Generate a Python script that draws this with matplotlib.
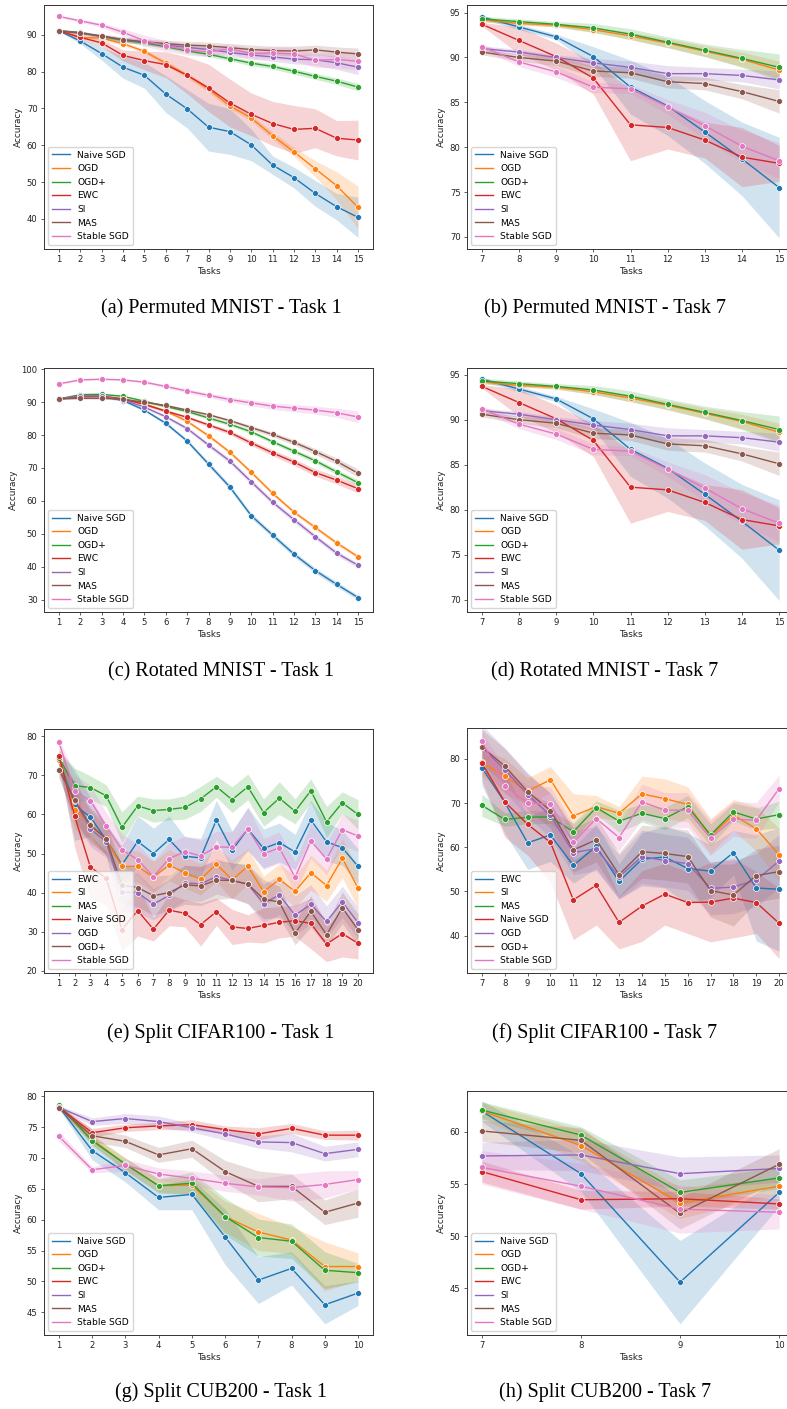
import matplotlib
matplotlib.use("Agg")
import matplotlib.pyplot as plt
from matplotlib.lines import Line2D
from matplotlib.ticker import MultipleLocator

# ---------------- data ----------------
methods_std = ["Naive SGD", "OGD", "OGD+", "EWC", "SI", "MAS", "Stable SGD"]
methods_cifar = ["EWC", "SI", "MAS", "Naive SGD", "OGD", "OGD+", "Stable SGD"]

tasks_15 = [1, 2, 3, 4, 5, 6, 7, 8, 9, 10, 11, 12, 13, 14, 15]
tasks_7_15 = [7, 8, 9, 10, 11, 12, 13, 14, 15]
tasks_20 = [1, 2, 3, 4, 5, 6, 7, 8, 9, 10, 11, 12, 13, 14, 15, 16, 17, 18, 19, 20]
tasks_7_20 = [7, 8, 9, 10, 11, 12, 13, 14, 15, 16, 17, 18, 19, 20]
tasks_10 = [1, 2, 3, 4, 5, 6, 7, 8, 9, 10]
tasks_7_10 = [7, 8, 9, 10]

# (a) Permuted MNIST - task 1
pmnist_t1_acc = [
    [91.1, 88.3, 84.9, 81.2, 79.0, 73.9, 69.9, 64.9, 63.7, 60.1, 54.6, 51.2, 46.9, 43.3, 40.4],
    [91.1, 89.3, 89.1, 87.6, 85.5, 82.3, 79.0, 75.2, 70.7, 67.4, 62.6, 58.2, 53.6, 49.0, 43.1],
    [91.1, 90.7, 89.5, 88.5, 87.8, 86.8, 85.6, 84.7, 83.5, 82.3, 81.4, 80.1, 78.7, 77.4, 75.8],
    [91.1, 89.3, 87.8, 84.4, 83.0, 81.9, 79.0, 75.6, 71.5, 68.4, 65.9, 64.3, 64.6, 61.9, 61.4],
    [91.1, 90.5, 89.6, 88.7, 88.0, 87.2, 86.6, 86.0, 85.2, 84.5, 84.0, 83.4, 83.2, 82.4, 81.2],
    [91.1, 90.4, 89.7, 88.7, 88.1, 87.6, 87.2, 87.0, 86.5, 86.0, 85.7, 85.6, 85.9, 85.3, 84.8],
    [95.0, 93.8, 92.6, 90.7, 88.4, 87.0, 85.9, 85.4, 86.2, 84.9, 85.1, 84.8, 83.1, 83.3, 82.8],
]
pmnist_t1_err = [
    [0.2, 0.7, 1.8, 3.0, 3.5, 5.0, 5.2, 6.5, 6.2, 4.3, 2.5, 2.8, 3.5, 3.6, 5.5],
    [0.2, 0.4, 0.5, 0.5, 0.5, 0.6, 0.7, 0.8, 0.8, 0.8, 1.0, 1.2, 2.2, 3.8, 5.8],
    [0.2, 0.4, 0.4, 0.5, 0.5, 0.5, 0.5, 0.6, 0.6, 0.7, 0.7, 0.8, 0.8, 0.9, 1.0],
    [0.2, 0.6, 1.0, 1.5, 2.5, 3.5, 5.0, 6.4, 6.5, 5.8, 6.0, 6.5, 5.3, 4.8, 5.4],
    [0.2, 0.4, 0.5, 0.6, 0.7, 0.8, 0.9, 1.0, 1.1, 1.1, 1.2, 1.3, 1.5, 1.8, 2.0],
    [0.2, 0.4, 0.5, 0.7, 0.8, 0.9, 1.0, 1.0, 1.1, 1.2, 1.2, 1.3, 1.3, 1.4, 1.6],
    [0.3, 0.4, 0.6, 0.9, 1.5, 1.5, 1.4, 1.4, 1.3, 1.4, 1.6, 1.8, 2.0, 2.2, 2.4],
]

# (b) Permuted MNIST - task 7  (panel (d) shows the same curves)
pmnist_t7_acc = [
    [94.5, 93.4, 92.3, 90.1, 86.7, 84.6, 81.7, 78.7, 75.5],
    [94.2, 93.8, 93.6, 93.1, 92.4, 91.6, 90.7, 89.8, 88.6],
    [94.3, 94.0, 93.7, 93.3, 92.6, 91.7, 90.8, 89.9, 88.9],
    [93.7, 91.9, 90.1, 87.7, 82.5, 82.2, 80.8, 78.9, 78.2],
    [91.0, 90.6, 90.0, 89.4, 88.9, 88.2, 88.2, 88.0, 87.5],
    [90.6, 90.0, 89.6, 88.5, 88.3, 87.3, 87.1, 86.2, 85.1],
    [91.2, 89.5, 88.4, 86.7, 86.5, 84.5, 82.4, 80.1, 78.5],
]
pmnist_t7_err = [
    [0.2, 0.3, 0.3, 1.1, 3.0, 3.3, 3.5, 4.1, 5.6],
    [0.2, 0.2, 0.2, 0.3, 0.4, 0.5, 0.6, 0.8, 1.0],
    [0.3, 0.3, 0.3, 0.5, 0.6, 0.6, 0.7, 1.0, 1.5],
    [0.2, 1.5, 1.5, 1.8, 4.0, 2.4, 2.0, 3.3, 2.0],
    [0.3, 0.3, 0.3, 0.5, 0.7, 0.9, 0.7, 0.7, 1.0],
    [0.3, 0.4, 0.5, 0.6, 0.6, 0.7, 0.7, 0.8, 1.3],
    [0.3, 0.5, 0.6, 0.6, 0.5, 0.8, 1.5, 1.8, 2.0],
]

# (c) Rotated MNIST - task 1
rmnist_t1_acc = [
    [91.0, 91.8, 91.8, 90.5, 87.6, 83.6, 78.2, 71.2, 64.2, 55.5, 49.6, 43.8, 38.8, 34.6, 30.6],
    [91.0, 92.0, 92.0, 91.0, 89.5, 87.3, 84.2, 79.8, 74.8, 68.7, 62.3, 56.6, 51.9, 47.2, 43.0],
    [91.0, 92.3, 92.4, 91.8, 90.3, 88.7, 87.2, 85.2, 83.3, 81.0, 78.0, 75.1, 72.2, 68.8, 65.5],
    [91.0, 91.7, 91.8, 91.0, 89.3, 87.3, 85.4, 83.1, 80.8, 77.6, 74.6, 71.8, 68.6, 66.3, 63.7],
    [91.0, 91.9, 91.9, 90.7, 88.5, 85.6, 82.0, 77.0, 72.1, 65.8, 59.6, 54.3, 49.1, 44.1, 40.4],
    [91.0, 91.2, 91.2, 90.9, 90.0, 89.0, 87.6, 86.2, 84.4, 82.3, 80.2, 77.8, 75.0, 72.0, 68.4],
    [95.6, 96.8, 97.0, 96.8, 96.1, 94.8, 93.4, 92.1, 90.8, 89.8, 88.8, 88.2, 87.6, 86.8, 85.5],
]
rmnist_t1_err = [
    [0.2, 0.3, 0.3, 0.3, 0.4, 0.5, 0.6, 0.7, 0.8, 0.8, 0.8, 0.8, 0.8, 0.8, 0.7],
    [0.2, 0.3, 0.3, 0.3, 0.3, 0.4, 0.5, 0.6, 0.6, 0.6, 0.6, 0.6, 0.6, 0.6, 0.6],
    [0.2, 0.4, 0.4, 0.3, 0.3, 0.4, 0.4, 0.5, 0.5, 0.6, 0.6, 0.7, 0.7, 0.8, 0.9],
    [0.2, 0.3, 0.3, 0.3, 0.4, 0.5, 0.5, 0.6, 0.7, 0.8, 0.9, 1.0, 1.1, 1.2, 1.3],
    [0.2, 0.3, 0.3, 0.3, 0.4, 0.5, 0.6, 0.7, 0.8, 0.8, 0.8, 0.8, 0.8, 0.8, 0.7],
    [0.2, 0.3, 0.3, 0.3, 0.3, 0.4, 0.4, 0.5, 0.5, 0.6, 0.7, 0.8, 0.9, 1.0, 1.3],
    [0.3, 0.3, 0.3, 0.3, 0.4, 0.5, 0.6, 0.7, 0.8, 0.9, 1.0, 1.1, 1.2, 1.4, 1.8],
]

# (e) Split CIFAR100 - task 1  (order: methods_cifar)
cifar_t1_acc = [
    [74.0, 62.4, 59.3, 53.5, 47.1, 53.1, 50.0, 53.6, 49.3, 48.9, 58.6, 50.8, 56.3, 51.3, 52.8, 50.4, 58.6, 53.0, 51.5, 46.7],
    [74.0, 61.2, 57.5, 53.5, 46.7, 46.7, 44.0, 47.0, 45.1, 43.4, 47.3, 43.3, 46.7, 40.2, 43.4, 40.3, 45.1, 41.8, 48.8, 41.1],
    [74.5, 67.4, 66.9, 64.8, 56.7, 62.2, 61.0, 61.3, 61.8, 64.0, 67.1, 63.8, 67.1, 60.5, 64.2, 60.8, 66.1, 58.1, 63.0, 60.0],
    [75.0, 59.5, 46.5, 43.7, 30.5, 35.4, 30.6, 35.5, 34.7, 31.8, 35.1, 31.2, 30.8, 31.6, 32.4, 32.8, 32.1, 26.8, 29.5, 27.0],
    [71.5, 63.5, 56.3, 53.0, 40.1, 40.0, 37.0, 39.3, 42.5, 42.2, 44.1, 43.1, 42.1, 37.2, 39.4, 34.2, 37.0, 32.6, 37.6, 32.3],
    [71.5, 63.7, 57.2, 53.8, 41.9, 41.3, 39.2, 40.0, 42.0, 41.7, 43.2, 43.1, 42.2, 38.3, 37.6, 29.6, 35.2, 29.2, 36.1, 30.5],
    [78.5, 66.0, 63.5, 57.0, 51.0, 48.4, 44.1, 48.7, 50.5, 49.4, 51.7, 51.6, 56.3, 49.9, 51.5, 43.9, 53.2, 48.6, 56.1, 54.5],
]
cifar_t1_err = [
    [2.0, 9.0, 5.0, 4.0, 5.0, 6.5, 6.5, 6.0, 5.0, 5.0, 5.0, 5.0, 5.5, 5.0, 5.0, 4.5, 5.0, 5.0, 4.5, 4.5],
    [2.0, 5.0, 4.0, 4.0, 4.0, 4.0, 4.0, 4.0, 4.0, 4.0, 4.5, 5.0, 4.5, 4.0, 4.0, 4.0, 4.5, 4.0, 5.0, 5.0],
    [2.0, 4.5, 3.0, 2.8, 4.0, 2.5, 3.0, 2.7, 3.0, 3.2, 2.7, 3.3, 3.3, 3.5, 4.2, 3.2, 3.0, 4.0, 2.8, 3.8],
    [2.0, 8.0, 8.0, 7.0, 5.5, 6.5, 3.0, 4.0, 3.5, 5.5, 3.5, 4.5, 3.5, 4.5, 4.0, 4.0, 6.5, 4.5, 6.0, 4.0],
    [2.0, 5.0, 4.5, 4.0, 5.0, 5.0, 4.0, 4.0, 4.5, 4.5, 4.5, 4.5, 5.0, 5.0, 5.0, 5.0, 5.0, 4.0, 4.0, 4.0],
    [2.0, 5.0, 4.5, 4.0, 5.0, 5.0, 5.0, 4.5, 5.0, 5.0, 5.0, 4.5, 5.0, 5.0, 4.0, 3.0, 4.0, 3.0, 4.0, 4.0],
    [1.0, 4.0, 4.0, 3.5, 4.0, 4.0, 4.0, 4.0, 4.0, 4.0, 4.0, 4.0, 5.5, 4.0, 4.0, 4.0, 4.5, 4.0, 4.0, 4.0],
]

# (f) Split CIFAR100 - task 7
cifar_t7_acc = [
    [78.0, 70.2, 61.0, 62.8, 55.9, 60.2, 52.3, 57.3, 57.8, 55.2, 54.6, 58.8, 50.8, 50.5],
    [79.2, 76.1, 72.7, 75.3, 67.1, 69.2, 67.7, 72.1, 71.0, 69.7, 62.5, 67.3, 64.2, 58.3],
    [69.5, 66.3, 66.8, 66.9, 63.5, 69.0, 65.9, 67.7, 66.5, 69.2, 62.8, 68.0, 66.4, 67.4],
    [79.1, 70.3, 65.2, 61.1, 48.1, 51.4, 43.0, 46.7, 49.4, 47.5, 47.6, 48.5, 47.5, 42.8],
    [82.7, 77.5, 71.9, 67.2, 58.8, 59.7, 53.3, 57.9, 57.0, 56.3, 50.7, 51.0, 52.6, 56.9],
    [82.7, 78.4, 72.6, 68.3, 59.4, 61.7, 53.8, 59.0, 58.6, 57.9, 50.2, 49.2, 53.6, 54.5],
    [84.1, 73.9, 70.1, 69.7, 61.1, 66.5, 62.2, 70.3, 68.4, 68.4, 62.1, 66.4, 66.1, 73.3],
]
cifar_t7_err = [
    [4.0, 7.0, 6.0, 6.0, 4.0, 5.0, 4.0, 6.0, 7.0, 8.0, 6.0, 5.0, 12.0, 14.0],
    [3.0, 4.0, 3.0, 3.0, 5.0, 2.5, 1.5, 4.0, 4.5, 4.0, 4.0, 3.5, 5.0, 6.0],
    [2.5, 1.5, 1.5, 1.5, 2.0, 1.5, 2.5, 2.0, 2.5, 2.5, 2.5, 2.0, 2.5, 3.0],
    [4.0, 8.0, 7.0, 9.0, 9.0, 9.0, 6.0, 8.0, 7.0, 7.0, 9.0, 9.0, 7.0, 8.0],
    [5.0, 5.0, 5.0, 5.0, 5.0, 5.0, 5.0, 6.0, 6.0, 6.0, 6.0, 6.0, 6.0, 6.0],
    [4.0, 4.0, 4.0, 4.0, 5.0, 5.0, 5.0, 6.0, 6.0, 6.0, 6.0, 7.0, 6.0, 6.0],
    [2.0, 4.0, 4.0, 4.0, 4.0, 3.0, 3.0, 4.0, 4.0, 4.0, 4.0, 4.0, 4.0, 3.0],
]

# (g) Split CUB200 - task 1
cub_t1_acc = [
    [78.3, 71.2, 67.6, 63.6, 64.1, 57.2, 50.2, 52.1, 46.2, 48.1],
    [78.3, 73.0, 69.0, 65.5, 65.6, 60.5, 58.0, 56.7, 52.4, 52.4],
    [78.6, 72.8, 69.0, 65.5, 65.9, 60.5, 57.1, 56.5, 51.8, 51.4],
    [78.2, 74.1, 74.9, 75.2, 75.4, 74.6, 73.9, 74.8, 73.7, 73.7],
    [78.2, 75.9, 76.4, 75.9, 74.9, 73.9, 72.6, 72.5, 70.7, 71.4],
    [78.1, 73.6, 72.7, 70.5, 71.5, 67.8, 65.4, 65.4, 61.2, 62.7],
    [73.5, 68.1, 68.8, 67.4, 66.7, 65.9, 65.3, 65.2, 65.7, 66.5],
]
cub_t1_err = [
    [0.3, 1.5, 1.5, 2.0, 2.5, 4.5, 3.8, 2.7, 3.1, 2.0],
    [0.3, 0.8, 1.0, 1.0, 1.5, 2.5, 3.0, 2.2, 4.0, 2.2],
    [0.3, 0.8, 1.0, 1.2, 1.8, 3.0, 3.0, 2.8, 3.0, 1.5],
    [0.3, 0.7, 0.6, 0.6, 0.8, 0.6, 1.0, 0.8, 0.7, 0.8],
    [0.3, 0.6, 0.8, 0.9, 0.7, 1.0, 1.0, 1.5, 1.2, 1.2],
    [0.3, 1.0, 1.0, 1.2, 1.4, 1.8, 2.5, 2.0, 2.0, 2.3],
    [0.8, 0.5, 1.0, 1.0, 1.2, 1.3, 1.3, 2.2, 2.2, 1.5],
]

# (h) Split CUB200 - task 7
cub_t7_acc = [
    [62.0, 56.0, 45.6, 54.2],
    [62.0, 58.7, 53.2, 54.8],
    [62.1, 59.7, 54.2, 55.6],
    [56.2, 53.5, 53.6, 53.1],
    [57.7, 57.8, 56.0, 56.5],
    [60.1, 59.2, 52.2, 56.9],
    [56.6, 54.8, 52.6, 52.3],
]
cub_t7_err = [
    [1.0, 1.7, 4.0, 1.3],
    [0.8, 1.5, 1.5, 0.8],
    [0.8, 0.8, 1.2, 1.0],
    [1.0, 0.9, 0.7, 0.5],
    [1.3, 1.5, 1.6, 1.3],
    [1.0, 1.2, 1.5, 1.5],
    [1.6, 2.2, 2.3, 1.6],
]

# ---------------- figure ----------------
W, H = 787, 1409
fig = plt.figure(figsize=(W / 100, H / 100), dpi=100)
colors = plt.cm.tab10.colors


def panel(box, tasks, methods, acc, err, ylim, ystep, caption, cap_x, cap_y):
    left, top, right, bottom = box
    ax = fig.add_axes([left / W, 1 - bottom / H, (right - left) / W, (bottom - top) / H])
    for i in range(len(methods)):
        lo = [m - e for m, e in zip(acc[i], err[i])]
        hi = [m + e for m, e in zip(acc[i], err[i])]
        ax.fill_between(tasks, lo, hi, color=colors[i], alpha=0.2, lw=0)
        ax.plot(tasks, acc[i], color=colors[i], lw=1.0, marker="o", ms=4.3,
                mec="white", mew=0.5)
    ax.set_xticks(tasks)
    ax.set_ylim(*ylim)
    ax.yaxis.set_major_locator(MultipleLocator(ystep))
    ax.tick_params(labelsize=6.1, length=2.3, width=0.5, pad=2.3, colors="#222222")
    for s in ax.spines.values():
        s.set_linewidth(0.7)
        s.set_color("#333333")
    ax.set_xlabel("Tasks", fontsize=6.4, labelpad=2.2, color="#222222")
    ax.set_ylabel("Accuracy", fontsize=6.4, labelpad=2.6, color="#222222")
    handles = [Line2D([], [], color=colors[i], lw=1.0) for i in range(len(methods))]
    ax.legend(handles, methods, loc="lower left", fontsize=6.6, handlelength=2.0,
              labelspacing=0.5, borderpad=0.4, borderaxespad=0.45, framealpha=0.8)
    fig.text(cap_x / W, 1 - cap_y / H, caption, ha="center", va="center",
             fontsize=14.5, family="Liberation Serif")
    return ax


panel((44, 5, 373, 249), tasks_15, methods_std, pmnist_t1_acc, pmnist_t1_err,
      (31.8, 98.1), 10, "(a) Permuted MNIST - Task 1", 221, 309)
panel((467, 5, 794, 249), tasks_7_15, methods_std, pmnist_t7_acc, pmnist_t7_err,
      (68.66, 95.85), 5, "(b) Permuted MNIST - Task 7", 605, 309)
panel((44, 368, 373, 612), tasks_15, methods_std, rmnist_t1_acc, rmnist_t1_err,
      (26.2, 100.4), 10, "(c) Rotated MNIST - Task 1", 221, 672)
panel((467, 368, 794, 612), tasks_7_15, methods_std, pmnist_t7_acc, pmnist_t7_err,
      (68.63, 95.74), 5, "(d) Rotated MNIST - Task 7", 605, 672)
panel((44, 729, 373, 973), tasks_20, methods_cifar, cifar_t1_acc, cifar_t1_err,
      (19.4, 81.9), 10, "(e) Split CIFAR100 - Task 1", 221, 1033)
panel((467, 728, 794, 973), tasks_7_20, methods_cifar, cifar_t7_acc, cifar_t7_err,
      (31.55, 87.0), 10, "(f) Split CIFAR100 - Task 7", 605, 1033)
panel((44, 1091, 373, 1335), tasks_10, methods_std, cub_t1_acc, cub_t1_err,
      (41.3, 80.86), 5, "(g) Split CUB200 - Task 1", 221, 1392)
panel((467, 1091, 794, 1335), tasks_7_10, methods_std, cub_t7_acc, cub_t7_err,
      (40.53, 63.93), 5, "(h) Split CUB200 - Task 7", 605, 1392)

fig.savefig("out.png", dpi=100)
